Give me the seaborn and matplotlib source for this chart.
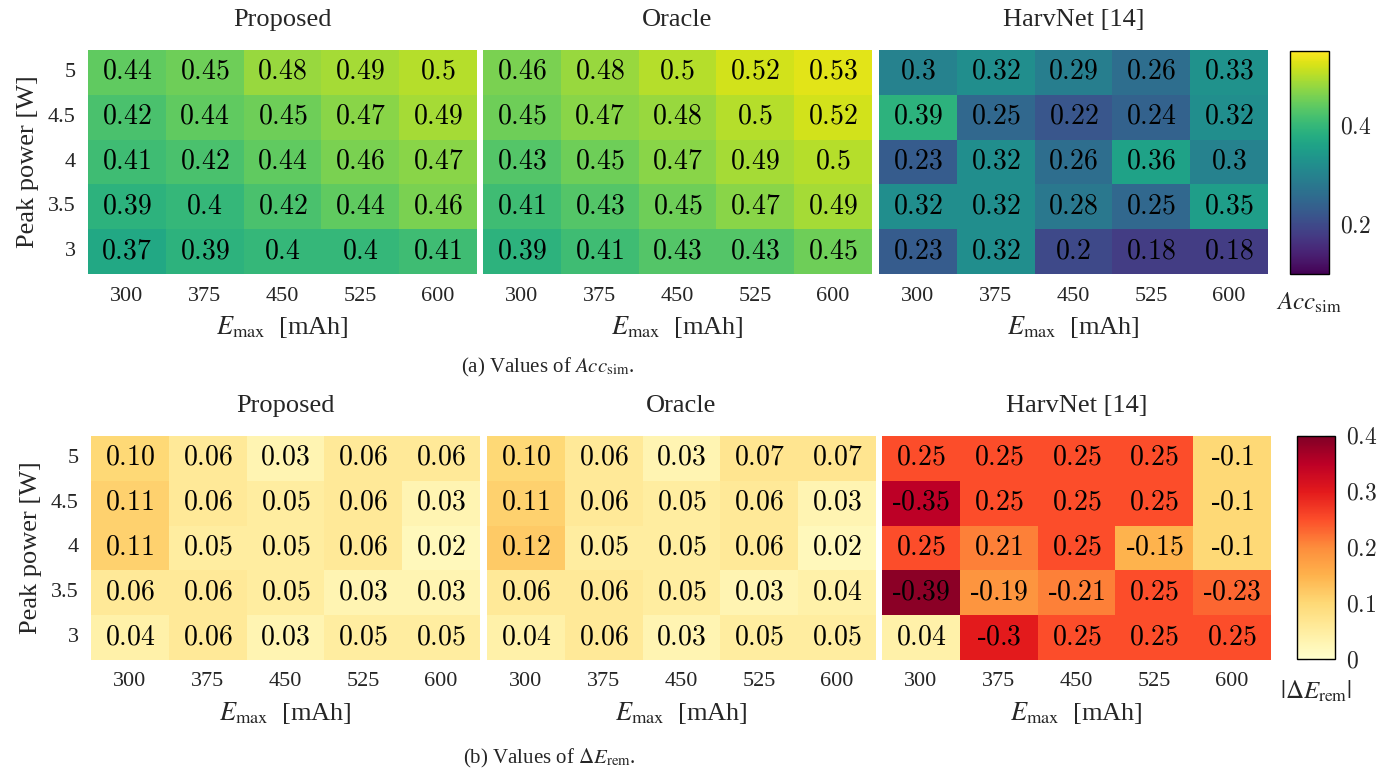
"""Heatmaps of Acc_sim and Delta E_rem for three methods."""

import numpy as np
import pandas as pd
import seaborn as sns
import matplotlib.pyplot as plt
from matplotlib.ticker import FuncFormatter

# Data
e_max = [300, 375, 450, 525, 600]
peak_power = ["5", "4.5", "4", "3.5", "3"]
methods = ["Proposed", "Oracle", "HarvNet [14]"]

acc_proposed = [[0.44, 0.45, 0.48, 0.49, 0.5],
                [0.42, 0.44, 0.45, 0.47, 0.49],
                [0.41, 0.42, 0.44, 0.46, 0.47],
                [0.39, 0.4, 0.42, 0.44, 0.46],
                [0.37, 0.39, 0.4, 0.4, 0.41]]
acc_oracle = [[0.46, 0.48, 0.5, 0.52, 0.53],
              [0.45, 0.47, 0.48, 0.5, 0.52],
              [0.43, 0.45, 0.47, 0.49, 0.5],
              [0.41, 0.43, 0.45, 0.47, 0.49],
              [0.39, 0.41, 0.43, 0.43, 0.45]]
acc_harvnet = [[0.3, 0.32, 0.29, 0.26, 0.33],
               [0.39, 0.25, 0.22, 0.24, 0.32],
               [0.23, 0.32, 0.26, 0.36, 0.3],
               [0.32, 0.32, 0.28, 0.25, 0.35],
               [0.23, 0.32, 0.2, 0.18, 0.18]]

de_proposed = [[0.10, 0.06, 0.03, 0.06, 0.06],
               [0.11, 0.06, 0.05, 0.06, 0.03],
               [0.11, 0.05, 0.05, 0.06, 0.02],
               [0.06, 0.06, 0.05, 0.03, 0.03],
               [0.04, 0.06, 0.03, 0.05, 0.05]]
de_oracle = [[0.10, 0.06, 0.03, 0.07, 0.07],
             [0.11, 0.06, 0.05, 0.06, 0.03],
             [0.12, 0.05, 0.05, 0.06, 0.02],
             [0.06, 0.06, 0.05, 0.03, 0.04],
             [0.04, 0.06, 0.03, 0.05, 0.05]]
de_harvnet = [[0.25, 0.25, 0.25, 0.25, -0.1],
              [-0.35, 0.25, 0.25, 0.25, -0.1],
              [0.25, 0.21, 0.25, -0.15, -0.1],
              [-0.39, -0.19, -0.21, 0.25, -0.23],
              [0.04, -0.3, 0.25, 0.25, 0.25]]

sns.set_style("white")
plt.rcParams["font.family"] = ["Liberation Serif", "DejaVu Serif"]
plt.rcParams["mathtext.fontset"] = "cm"

W, H = 1392, 773
fig = plt.figure(figsize=(W / 100, H / 100), dpi=100)


def rect(x0, y0, x1, y1):
    return [x0 / W, 1 - y1 / H, (x1 - x0) / W, (y1 - y0) / H]


def cell_label(v, fmt):
    # short text hyphen for negatives, digits in CM math
    s = "$" + format(abs(v), fmt) + "$"
    return "-" + s if v < 0 else s


def draw(ax, values, fmt, cmap, vmin, vmax, title, first):
    df = pd.DataFrame(values, index=peak_power, columns=e_max)
    labels = df.map(lambda v: cell_label(v, fmt))
    sns.heatmap(np.abs(df), ax=ax, cmap=cmap, vmin=vmin, vmax=vmax,
                annot=labels, fmt="", cbar=False,
                annot_kws={"fontsize": 20, "color": "black"})
    ax.set_title(title, fontsize=19, pad=17)
    ax.tick_params(length=0, labelsize=16, pad=9)
    ax.set_xticklabels([str(e) for e in e_max], rotation=0)
    if first:
        ax.set_yticklabels(peak_power, rotation=0)
        ax.set_ylabel("Peak power [W]", fontsize=19, labelpad=6)
    else:
        ax.set_yticks([])
        ax.set_ylabel("")
    ax.set_xlabel(r"$E_{\mathrm{max}}$  [mAh]", fontsize=19,
                  math_fontfamily="stix", labelpad=6)
    return ax.collections[0]


def colorbar(mappable, box, ticks, label, pad):
    cax = fig.add_axes(rect(*box))
    cb = fig.colorbar(mappable, cax=cax)
    cb.outline.set_edgecolor("black")
    cb.outline.set_linewidth(1)
    cb.set_ticks(ticks)
    cax.yaxis.set_major_formatter(FuncFormatter(lambda v, p: "$%g$" % v))
    cax.tick_params(direction="in", length=7, width=0.8, color="gray",
                    left=True, right=True, labelleft=False, labelright=True,
                    labelsize=17, pad=8)
    cax.set_xlabel(label, fontsize=18, math_fontfamily="stix", labelpad=pad)


# (a) Acc_sim
top_boxes = [(88, 50, 477, 274), (483, 50, 872, 274), (879, 50, 1268, 274)]
acc_data = [acc_proposed, acc_oracle, acc_harvnet]
for i, (box, vals) in enumerate(zip(top_boxes, acc_data)):
    ax = fig.add_axes(rect(*box))
    m = draw(ax, vals, "g", "viridis", 0.1, 0.55, methods[i], i == 0)
colorbar(m, (1290, 51, 1329, 274), [0.2, 0.4], r"$Acc_{\mathrm{sim}}$", 12)

# (b) Delta E_rem
bot_boxes = [(91, 436, 480, 660), (487, 436, 876, 660), (882, 436, 1271, 660)]
de_data = [de_proposed, de_oracle, de_harvnet]
de_fmts = [".2f", ".2f", "g"]
for i, (box, vals) in enumerate(zip(bot_boxes, de_data)):
    ax = fig.add_axes(rect(*box))
    m = draw(ax, vals, de_fmts[i], "YlOrRd", 0, 0.4, methods[i], i == 0)
colorbar(m, (1297, 436, 1335, 659), [0, 0.1, 0.2, 0.3, 0.4],
         r"$|\Delta E_{\mathrm{rem}}|$", 14)

fig.text(548 / W, 1 - 367 / H, r"(a) Values of $Acc_{\mathrm{sim}}$.",
         ha="center", va="center", fontsize=15, math_fontfamily="stix")
fig.text(549 / W, 1 - 758 / H, r"(b) Values of $\Delta E_{\mathrm{rem}}$.",
         ha="center", va="center", fontsize=15, math_fontfamily="stix")

fig.savefig("out.png", dpi=100)
